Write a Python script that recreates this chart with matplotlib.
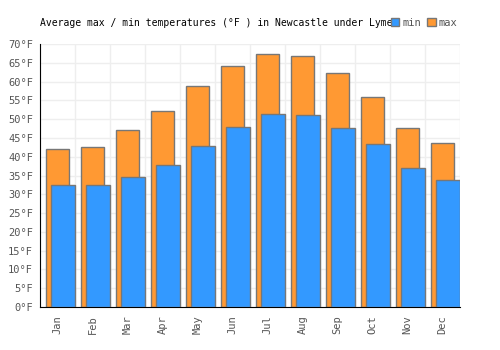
import numpy as np
import matplotlib
matplotlib.use("Agg")
import matplotlib.pyplot as plt
from matplotlib.patches import Patch

months = ['Jan', 'Feb', 'Mar', 'Apr', 'May', 'Jun', 'Jul', 'Aug', 'Sep', 'Oct', 'Nov', 'Dec']
temp_max = [42.0, 42.6, 47.1, 52.2, 58.8, 64.1, 67.3, 66.8, 62.3, 55.9, 47.6, 43.6]
temp_min = [32.5, 32.5, 34.6, 37.8, 42.9, 47.9, 51.4, 51.1, 47.6, 43.4, 37.0, 33.8]

plt.rcParams['font.family'] = ['DejaVu Sans Mono']

fig = plt.figure(figsize=(5, 3.5), dpi=100)
# axes box in pixels: left 40, right 460, top 44, bottom 307
ax = fig.add_axes([40 / 500, 1 - 307 / 350, 420 / 500, 263 / 350])

x = np.arange(len(months))
orange = '#ff9933'
blue = '#3399ff'
edge = '#777777'

# max bars sit a bit left, min bars overlap them on the right
ax.bar(x + 6 / 35, temp_max, width=23 / 35, align='edge', color=orange,
       edgecolor=edge, linewidth=1, zorder=2)
ax.bar(x + 11 / 35, temp_min, width=24 / 35, align='edge', color=blue,
       edgecolor=edge, linewidth=1, zorder=3)

ax.set_xlim(0, 12)
ax.set_ylim(0, 70)
ax.set_yticks(range(0, 71, 5))
ax.set_yticklabels([f'{v}°F' for v in range(0, 71, 5)], fontsize=7.5, color='#555555')
ax.set_xticks(x + 0.5)
ax.set_xticklabels(months, rotation=90, fontsize=7.5, color='#555555')
ax.set_xticks(range(0, 13), minor=True)
ax.tick_params(axis='x', which='major', length=0, pad=6)
ax.tick_params(axis='x', which='minor', length=0)
ax.tick_params(axis='y', length=0, pad=5)

ax.grid(True, axis='y', which='major', color='#eeeeee', linewidth=1, zorder=0)
ax.grid(True, axis='x', which='minor', color='#eeeeee', linewidth=1, zorder=0)
ax.set_axisbelow(True)

for side in ['top', 'right']:
    ax.spines[side].set_visible(False)
ax.spines['left'].set_color('black')
ax.spines['bottom'].set_color('black')

fig.text(40 / 500, 1 - 23 / 350, 'Average max / min temperatures (°F ) in Newcastle under Lyme',
         fontsize=7, color='black', va='center', ha='left')

handles = [Patch(facecolor=blue, edgecolor=edge), Patch(facecolor=orange, edgecolor=edge)]
fig.legend(handles, ['min', 'max'], loc='center left', bbox_to_anchor=(391 / 500, 1 - 23 / 350),
           ncol=2, frameon=False, fontsize=7.5, handlelength=0.8, handleheight=0.8,
           handletextpad=0.3, columnspacing=0.6, labelcolor='#555555', borderaxespad=0,
           borderpad=0)

fig.savefig('out.png', dpi=100)
